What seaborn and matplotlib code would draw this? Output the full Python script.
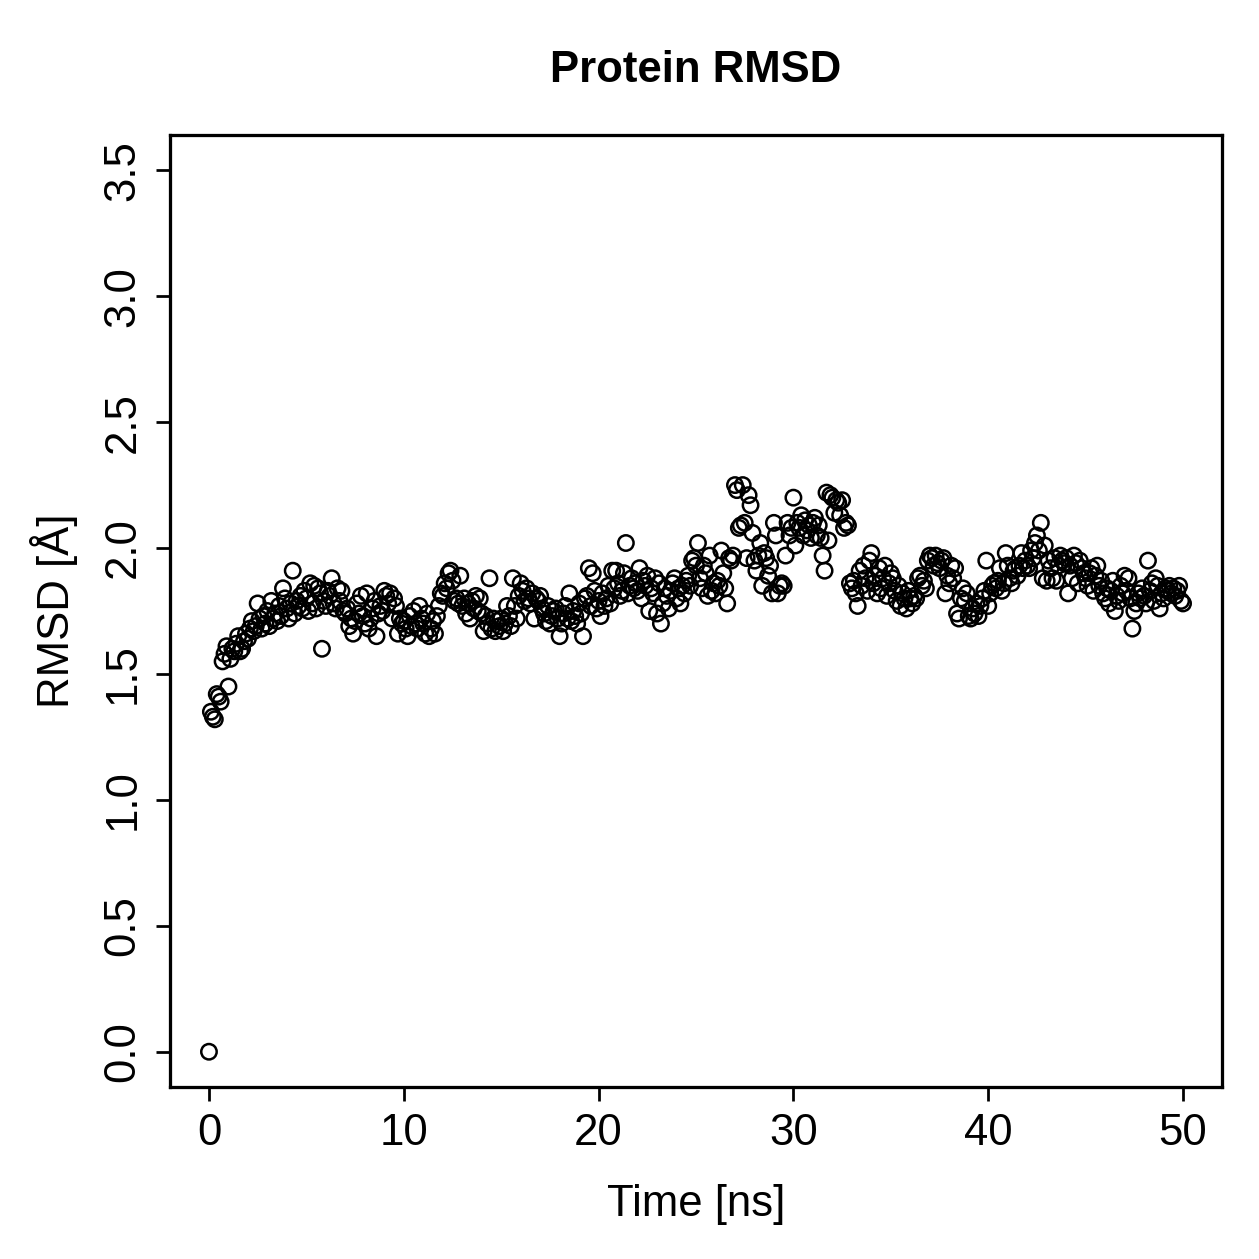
import numpy as np
import pandas as pd
import matplotlib
matplotlib.use("Agg")
import matplotlib.pyplot as plt
import seaborn as sns

# RMSD values (Å), one every 0.1 ns from 0 to 50 ns
rmsd = [
    0.00, 1.35, 1.33, 1.32, 1.42, 1.41, 1.39, 1.55, 1.58, 1.61,
    1.45, 1.56, 1.60, 1.59, 1.62, 1.65, 1.59, 1.60, 1.63, 1.66,
    1.64, 1.68, 1.71, 1.67, 1.69, 1.78, 1.72, 1.68, 1.73, 1.70,
    1.75, 1.69, 1.79, 1.72, 1.74, 1.71, 1.77, 1.73, 1.84, 1.80,
    1.76, 1.72, 1.78, 1.91, 1.74, 1.79, 1.77, 1.81, 1.76, 1.83,
    1.80, 1.75, 1.86, 1.78, 1.85, 1.76, 1.84, 1.82, 1.60, 1.79,
    1.77, 1.83, 1.81, 1.88, 1.78, 1.76, 1.84, 1.79, 1.83, 1.75,
    1.74, 1.76, 1.69, 1.72, 1.66, 1.71, 1.78, 1.74, 1.81, 1.73,
    1.70, 1.82, 1.68, 1.72, 1.76, 1.79, 1.65, 1.74, 1.77, 1.75,
    1.83, 1.81, 1.78, 1.82, 1.72, 1.80, 1.77, 1.66, 1.72, 1.70,
    1.71, 1.68, 1.65, 1.73, 1.69, 1.75, 1.70, 1.68, 1.77, 1.72,
    1.70, 1.66, 1.74, 1.65, 1.68, 1.71, 1.66, 1.73, 1.77, 1.82,
    1.81, 1.86, 1.84, 1.90, 1.91, 1.87, 1.79, 1.80, 1.78, 1.89,
    1.77, 1.80, 1.74, 1.78, 1.72, 1.79, 1.76, 1.81, 1.75, 1.80,
    1.74, 1.67, 1.73, 1.70, 1.88, 1.68, 1.72, 1.67, 1.71, 1.69,
    1.72, 1.67, 1.70, 1.77, 1.73, 1.69, 1.88, 1.77, 1.72, 1.81,
    1.86, 1.83, 1.79, 1.84, 1.80, 1.78, 1.82, 1.72, 1.80, 1.79,
    1.81, 1.76, 1.74, 1.71, 1.77, 1.70, 1.73, 1.75, 1.76, 1.72,
    1.65, 1.70, 1.74, 1.77, 1.72, 1.82, 1.71, 1.75, 1.73, 1.70,
    1.78, 1.74, 1.65, 1.80, 1.81, 1.92, 1.77, 1.90, 1.83, 1.76,
    1.79, 1.73, 1.82, 1.77, 1.80, 1.85, 1.78, 1.91, 1.84, 1.91,
    1.86, 1.81, 1.83, 1.90, 2.02, 1.82, 1.85, 1.88, 1.84, 1.86,
    1.83, 1.92, 1.80, 1.87, 1.85, 1.89, 1.75, 1.84, 1.82, 1.88,
    1.74, 1.86, 1.70, 1.78, 1.84, 1.81, 1.76, 1.83, 1.86, 1.88,
    1.80, 1.84, 1.78, 1.85, 1.82, 1.87, 1.89, 1.85, 1.95, 1.96,
    1.93, 2.02, 1.88, 1.84, 1.93, 1.90, 1.81, 1.97, 1.83, 1.86,
    1.82, 1.87, 1.85, 1.99, 1.90, 1.84, 1.78, 1.96, 1.95, 1.97,
    2.25, 2.23, 2.08, 2.09, 2.25, 2.10, 1.96, 2.21, 2.17, 2.06,
    1.95, 1.91, 1.97, 2.02, 1.85, 1.98, 1.96, 1.89, 1.93, 1.82,
    2.10, 2.05, 1.82, 1.85, 1.86, 1.85, 1.97, 2.10, 2.05, 2.08,
    2.20, 2.01, 2.10, 2.08, 2.13, 2.05, 2.11, 2.07, 2.09, 2.04,
    2.10, 2.12, 2.05, 2.09, 2.04, 1.97, 1.91, 2.22, 2.03, 2.21,
    2.20, 2.14, 2.19, 2.18, 2.13, 2.19, 2.08, 2.10, 2.09, 1.86,
    1.84, 1.87, 1.82, 1.77, 1.91, 1.85, 1.93, 1.88, 1.83, 1.95,
    1.98, 1.86, 1.89, 1.82, 1.92, 1.84, 1.88, 1.93, 1.81, 1.86,
    1.90, 1.88, 1.83, 1.79, 1.85, 1.77, 1.82, 1.80, 1.76, 1.83,
    1.80, 1.78, 1.81, 1.80, 1.88, 1.89, 1.85, 1.87, 1.84, 1.95,
    1.97, 1.96, 1.93, 1.97, 1.94, 1.92, 1.95, 1.96, 1.82, 1.89,
    1.86, 1.93, 1.88, 1.92, 1.74, 1.72, 1.80, 1.84, 1.79, 1.82,
    1.73, 1.72, 1.76, 1.74, 1.78, 1.73, 1.77, 1.80, 1.83, 1.95,
    1.77, 1.82, 1.85, 1.86, 1.84, 1.87, 1.92, 1.83, 1.86, 1.98,
    1.93, 1.88, 1.86, 1.91, 1.92, 1.89, 1.93, 1.98, 1.92, 1.95,
    1.93, 1.92, 1.99, 1.96, 2.02, 2.05, 1.99, 2.10, 1.88, 2.01,
    1.87, 1.95, 1.92, 1.88, 1.96, 1.87, 1.93, 1.97, 1.95, 1.94,
    1.96, 1.82, 1.93, 1.88, 1.97, 1.94, 1.86, 1.95, 1.92, 1.90,
    1.88, 1.85, 1.90, 1.92, 1.83, 1.89, 1.93, 1.85, 1.87, 1.82,
    1.80, 1.84, 1.78, 1.83, 1.87, 1.75, 1.81, 1.79, 1.85, 1.82,
    1.89, 1.83, 1.88, 1.80, 1.68, 1.75, 1.78, 1.82, 1.80, 1.84,
    1.81, 1.78, 1.95, 1.83, 1.86, 1.79, 1.88, 1.85, 1.76, 1.82,
    1.80, 1.84, 1.83, 1.85, 1.82, 1.84, 1.81, 1.83, 1.85, 1.79,
    1.78,
]
time_ns = np.linspace(0, 50, len(rmsd))

x_ticks = [0, 10, 20, 30, 40, 50]
y_ticks = [0.0, 0.5, 1.0, 1.5, 2.0, 2.5, 3.0, 3.5]
y_tick_labels = ["0.0", "0.5", "1.0", "1.5", "2.0", "2.5", "3.0", "3.5"]

sns.set_theme(style="ticks")
plt.rcParams["font.family"] = ["Liberation Sans", "DejaVu Sans"]

W = 1259
fig = plt.figure(figsize=(W / 180, W / 180), dpi=180)
ax = fig.add_axes([170 / W, 1 - 1087 / W, (1222 - 170) / W, (1087 - 135) / W])

df = pd.DataFrame({"time": time_ns, "rmsd": rmsd})
sns.scatterplot(data=df, x="time", y="rmsd", ax=ax, marker="o", s=38,
                facecolor="none", edgecolor="black", linewidth=1.0)

ax.set_xlim(-2, 52)
ax.set_ylim(-0.14, 3.64)
ax.set_xticks(x_ticks)
ax.set_xticklabels([str(v) for v in x_ticks])
ax.set_yticks(y_ticks)
ax.set_yticklabels(y_tick_labels, rotation=90, va="center")

for sp in ax.spines.values():
    sp.set_visible(True)
    sp.set_color("black")
    sp.set_linewidth(1.3)

ax.tick_params(axis="both", direction="out", length=5.5, width=1.1, colors="black",
               labelsize=17.5, pad=5)
ax.set_xlabel("Time [ns]", fontsize=17.5, labelpad=12, color="black")
ax.set_ylabel("RMSD [Å]", fontsize=17.5, labelpad=10, color="black")
ax.set_title("Protein RMSD", fontsize=17.5, fontweight="bold", pad=21, color="black")

fig.savefig("out.png", dpi=180, facecolor="white")
